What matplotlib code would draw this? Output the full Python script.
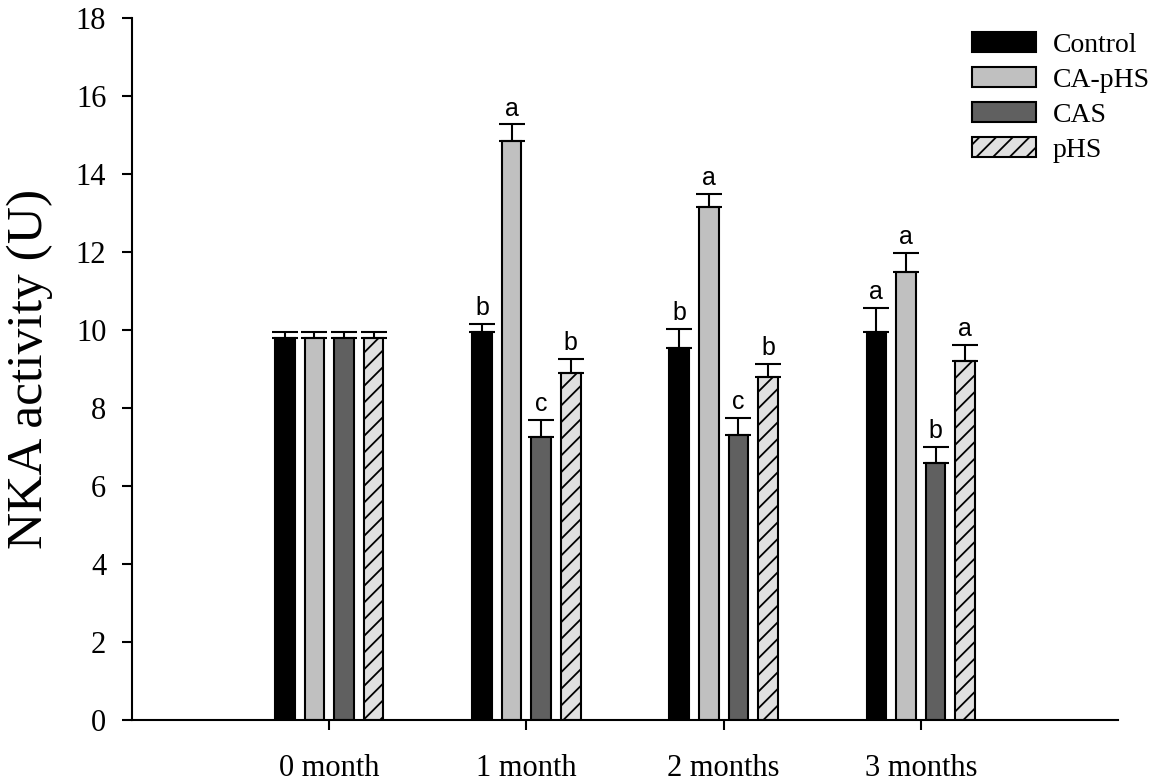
import numpy as np
import matplotlib
matplotlib.use("Agg")
import matplotlib.pyplot as plt

# Data
periods = ["0 month", "1 month", "2 months", "3 months"]
groups = ["Control", "CA-pHS", "CAS", "pHS"]

control = [9.80, 9.95, 9.55, 9.95]
ca_phs = [9.80, 14.85, 13.15, 11.50]
cas = [9.80, 7.25, 7.30, 6.60]
phs = [9.80, 8.90, 8.80, 9.20]

control_err = [0.14, 0.20, 0.47, 0.62]
ca_phs_err = [0.14, 0.42, 0.35, 0.47]
cas_err = [0.14, 0.45, 0.45, 0.40]
phs_err = [0.14, 0.35, 0.32, 0.42]

control_sig = ["", "b", "b", "a"]
ca_phs_sig = ["", "a", "a", "a"]
cas_sig = ["", "c", "c", "b"]
phs_sig = ["", "b", "b", "a"]

series = [
    (control, control_err, control_sig, "#000000", ""),
    (ca_phs, ca_phs_err, ca_phs_sig, "#c0c0c0", ""),
    (cas, cas_err, cas_sig, "#606060", ""),
    (phs, phs_err, phs_sig, "#e0e0e0", "//"),
]

plt.rcParams["font.family"] = ["Liberation Serif", "DejaVu Serif"]
plt.rcParams["hatch.linewidth"] = 1.3

fig = plt.figure(figsize=(11.55, 7.82), dpi=100)
ax = fig.add_axes([132 / 1155, 62 / 782, 986 / 1155, 702 / 782])

x = np.arange(len(periods))
width = 0.1
step = 0.15

for i, (vals, errs, sigs, color, hatch) in enumerate(series):
    pos = x + (i - 1.5) * step
    ax.bar(pos, vals, width, color=color, edgecolor="black", linewidth=1.5,
           hatch=hatch, label=groups[i], zorder=2)
    ax.errorbar(pos, vals, yerr=[np.zeros(len(errs)), errs], fmt="none",
                ecolor="black", elinewidth=1.5, capsize=9.5, capthick=1.5, zorder=3)
    for p, v, e, s in zip(pos, vals, errs, sigs):
        if s:
            ax.text(p, v + e + 0.1, s, ha="center", va="bottom",
                    fontsize=18, family="Liberation Sans")

ax.set_xlim(-1, 4)
ax.set_ylim(0, 18)
ax.set_yticks(np.arange(0, 19, 2))
ax.set_xticks(x)
ax.set_xticklabels(periods)

for side in ["top", "right"]:
    ax.spines[side].set_visible(False)
for side in ["left", "bottom"]:
    ax.spines[side].set_linewidth(1.5)

ax.tick_params(axis="y", direction="out", length=7.5, width=1.5, pad=11, labelsize=22)
ax.tick_params(axis="x", direction="out", length=7.5, width=1.5, pad=17, labelsize=22)

ax.set_ylabel("NKA activity (U)", fontsize=37)
ax.yaxis.set_label_coords(-0.080, 0.5)

ax.legend(loc="upper left", bbox_to_anchor=(972 / 1155, 1 - 32 / 782),
          bbox_transform=fig.transFigure, frameon=False, fontsize=20,
          handlelength=2.3, handleheight=0.72, handletextpad=0.6,
          labelspacing=0.34, borderpad=0, borderaxespad=0)

fig.savefig("out.png", dpi=100)
